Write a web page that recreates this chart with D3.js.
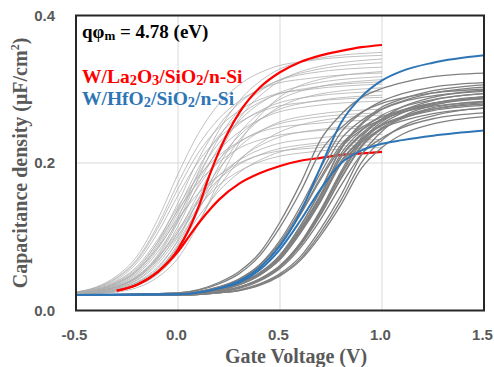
<!DOCTYPE html>
<html>
<head>
<meta charset="utf-8">
<script src="https://cdn.jsdelivr.net/npm/d3@7/dist/d3.min.js"></script>
<style>
  html, body { margin: 0; padding: 0; background: #fff; }
  svg { display: block; }
</style>
</head>
<body>
<svg id="chart" width="494" height="367"></svg>
<script>
// C-V curves, W/La2O3 vs W/HfO2 gate stacks

const xTicks = [-0.5, 0.0, 0.5, 1.0, 1.5]
const yTicks = [0.0, 0.2, 0.4]

// La2O3 samples (thin light grey), sampled on laVolt
const laVolt = [-0.5, -0.4, -0.3, -0.2, -0.1, 0.0, 0.1, 0.2, 0.3, 0.45, 0.65, 1.0]
const laCurves = [
  [0.023, 0.025, 0.032, 0.047, 0.075, 0.125, 0.188, 0.244, 0.284, 0.320, 0.340, 0.350],
  [0.025, 0.032, 0.047, 0.074, 0.123, 0.185, 0.240, 0.280, 0.306, 0.328, 0.339, 0.346],
  [0.022, 0.024, 0.028, 0.038, 0.057, 0.096, 0.151, 0.212, 0.260, 0.302, 0.328, 0.341],
  [0.023, 0.025, 0.032, 0.046, 0.073, 0.120, 0.180, 0.234, 0.272, 0.306, 0.325, 0.336],
  [0.024, 0.028, 0.038, 0.056, 0.093, 0.146, 0.205, 0.251, 0.281, 0.307, 0.322, 0.330],
  [0.022, 0.023, 0.025, 0.031, 0.045, 0.071, 0.117, 0.175, 0.227, 0.278, 0.310, 0.324],
  [0.025, 0.031, 0.045, 0.070, 0.115, 0.173, 0.224, 0.260, 0.284, 0.305, 0.315, 0.322],
  [0.023, 0.025, 0.031, 0.044, 0.070, 0.114, 0.171, 0.221, 0.257, 0.289, 0.307, 0.317],
  [0.022, 0.024, 0.027, 0.037, 0.054, 0.090, 0.140, 0.196, 0.240, 0.278, 0.301, 0.313],
  [0.024, 0.027, 0.037, 0.054, 0.089, 0.138, 0.193, 0.237, 0.264, 0.289, 0.302, 0.310],
  [0.025, 0.031, 0.044, 0.068, 0.111, 0.165, 0.214, 0.248, 0.271, 0.291, 0.300, 0.307],
  [0.022, 0.024, 0.027, 0.036, 0.053, 0.087, 0.135, 0.189, 0.231, 0.268, 0.291, 0.302],
  [0.024, 0.027, 0.036, 0.053, 0.086, 0.133, 0.185, 0.227, 0.253, 0.277, 0.290, 0.297],
  [0.023, 0.025, 0.030, 0.042, 0.066, 0.106, 0.158, 0.204, 0.237, 0.267, 0.283, 0.292],
  [0.025, 0.030, 0.042, 0.065, 0.105, 0.156, 0.202, 0.234, 0.255, 0.274, 0.283, 0.289],
  [0.024, 0.027, 0.035, 0.051, 0.083, 0.128, 0.178, 0.217, 0.242, 0.265, 0.277, 0.284],
  [0.023, 0.025, 0.030, 0.041, 0.063, 0.100, 0.149, 0.192, 0.222, 0.250, 0.265, 0.273],
  [0.024, 0.026, 0.034, 0.049, 0.079, 0.121, 0.168, 0.205, 0.228, 0.249, 0.261, 0.268],
  [0.022, 0.023, 0.026, 0.034, 0.049, 0.078, 0.120, 0.167, 0.203, 0.235, 0.255, 0.265],
  [0.024, 0.029, 0.040, 0.060, 0.096, 0.141, 0.182, 0.210, 0.229, 0.246, 0.253, 0.259],
  [0.023, 0.024, 0.029, 0.039, 0.059, 0.094, 0.138, 0.177, 0.205, 0.230, 0.244, 0.251],
  [0.024, 0.029, 0.039, 0.058, 0.092, 0.136, 0.174, 0.201, 0.220, 0.235, 0.243, 0.248],
  [0.023, 0.026, 0.033, 0.046, 0.072, 0.109, 0.151, 0.183, 0.204, 0.223, 0.233, 0.239],
  [0.023, 0.026, 0.033, 0.045, 0.071, 0.106, 0.147, 0.178, 0.198, 0.216, 0.226, 0.232],
  [0.023, 0.024, 0.028, 0.038, 0.055, 0.087, 0.127, 0.162, 0.187, 0.210, 0.223, 0.229],
  [0.024, 0.028, 0.037, 0.055, 0.085, 0.124, 0.159, 0.183, 0.200, 0.214, 0.220, 0.225],
  [0.023, 0.026, 0.032, 0.044, 0.068, 0.102, 0.140, 0.170, 0.189, 0.206, 0.215, 0.221]
]

// HfO2 samples (darker grey), sampled on hfVolt
const hfVolt = [-0.5, 0.0, 0.2, 0.3, 0.4, 0.5, 0.6, 0.7, 0.8, 0.9, 1.0, 1.1, 1.25, 1.5]
const hfCurves = [
  [0.021, 0.024, 0.038, 0.053, 0.078, 0.120, 0.172, 0.232, 0.266, 0.289, 0.301, 0.309, 0.317, 0.322],
  [0.021, 0.023, 0.032, 0.043, 0.062, 0.095, 0.141, 0.194, 0.242, 0.268, 0.284, 0.294, 0.303, 0.309],
  [0.021, 0.022, 0.028, 0.037, 0.051, 0.075, 0.115, 0.164, 0.221, 0.254, 0.276, 0.287, 0.298, 0.306],
  [0.021, 0.022, 0.028, 0.037, 0.051, 0.075, 0.114, 0.163, 0.219, 0.252, 0.273, 0.284, 0.295, 0.303],
  [0.021, 0.021, 0.026, 0.032, 0.043, 0.061, 0.092, 0.137, 0.189, 0.235, 0.260, 0.276, 0.289, 0.299],
  [0.021, 0.023, 0.032, 0.042, 0.061, 0.092, 0.136, 0.187, 0.233, 0.258, 0.273, 0.283, 0.291, 0.297],
  [0.021, 0.021, 0.025, 0.032, 0.042, 0.060, 0.091, 0.135, 0.186, 0.231, 0.256, 0.271, 0.285, 0.294],
  [0.021, 0.022, 0.028, 0.036, 0.050, 0.073, 0.111, 0.158, 0.213, 0.244, 0.265, 0.276, 0.286, 0.294],
  [0.021, 0.021, 0.024, 0.028, 0.036, 0.050, 0.073, 0.111, 0.157, 0.211, 0.243, 0.263, 0.278, 0.290],
  [0.021, 0.021, 0.025, 0.031, 0.042, 0.060, 0.090, 0.134, 0.184, 0.228, 0.253, 0.268, 0.281, 0.290],
  [0.021, 0.022, 0.028, 0.036, 0.049, 0.072, 0.110, 0.156, 0.209, 0.240, 0.260, 0.271, 0.281, 0.289],
  [0.021, 0.023, 0.031, 0.042, 0.059, 0.089, 0.131, 0.181, 0.225, 0.248, 0.263, 0.272, 0.281, 0.287],
  [0.021, 0.021, 0.025, 0.031, 0.041, 0.059, 0.089, 0.131, 0.180, 0.224, 0.248, 0.262, 0.275, 0.284],
  [0.021, 0.023, 0.031, 0.041, 0.058, 0.088, 0.130, 0.178, 0.221, 0.245, 0.259, 0.269, 0.277, 0.283],
  [0.021, 0.021, 0.025, 0.031, 0.041, 0.059, 0.088, 0.130, 0.179, 0.222, 0.246, 0.260, 0.273, 0.282],
  [0.021, 0.022, 0.028, 0.035, 0.048, 0.070, 0.107, 0.151, 0.203, 0.233, 0.252, 0.263, 0.273, 0.280],
  [0.021, 0.022, 0.027, 0.035, 0.048, 0.070, 0.106, 0.150, 0.202, 0.231, 0.251, 0.261, 0.271, 0.278],
  [0.021, 0.021, 0.024, 0.027, 0.035, 0.048, 0.070, 0.106, 0.150, 0.201, 0.231, 0.250, 0.264, 0.275],
  [0.021, 0.022, 0.027, 0.035, 0.048, 0.069, 0.105, 0.148, 0.199, 0.228, 0.247, 0.257, 0.267, 0.274],
  [0.021, 0.021, 0.025, 0.030, 0.040, 0.057, 0.085, 0.124, 0.170, 0.212, 0.234, 0.248, 0.260, 0.268],
  [0.021, 0.021, 0.024, 0.027, 0.034, 0.047, 0.068, 0.102, 0.144, 0.193, 0.221, 0.239, 0.253, 0.263],
  [0.021, 0.024, 0.036, 0.050, 0.074, 0.113, 0.161, 0.216, 0.248, 0.269, 0.281, 0.288, 0.295, 0.300],
  [0.021, 0.022, 0.028, 0.036, 0.049, 0.072, 0.109, 0.154, 0.208, 0.238, 0.258, 0.269, 0.279, 0.288]
]

// highlighted La2O3 pair (red)
const redVolt = [-0.3, -0.2, -0.1, 0.0, 0.1, 0.15, 0.2, 0.3, 0.4, 0.5, 0.6, 0.7, 0.8, 0.9, 1.0]
const redTop = [0.027, 0.035, 0.052, 0.083, 0.140, 0.180, 0.215, 0.268, 0.302, 0.323, 0.337, 0.346, 0.352, 0.357, 0.360]
const redBottom = [0.027, 0.035, 0.052, 0.080, 0.118, 0.135, 0.150, 0.172, 0.186, 0.196, 0.203, 0.207, 0.211, 0.213, 0.215]

// highlighted HfO2 pair (blue), on hfVolt
const blueTop = [0.021, 0.022, 0.030, 0.040, 0.058, 0.088, 0.133, 0.195, 0.255, 0.290, 0.312, 0.325, 0.336, 0.346]
const blueBottom = [0.021, 0.022, 0.030, 0.038, 0.055, 0.083, 0.122, 0.165, 0.200, 0.217, 0.226, 0.231, 0.237, 0.244]

const svg = d3.select('#chart')
const plot = { left: 76, right: 484, top: 15.5, bottom: 310.5 }

const x = d3.scaleLinear().domain([-0.5, 1.5]).range([plot.left, plot.right])
const y = d3.scaleLinear().domain([0, 0.4]).range([plot.bottom, plot.top])

const serif = '"Liberation Serif", "Times New Roman", serif'
const sans = '"Liberation Sans", Arial, sans-serif'
const axisGrey = '#595959'

// Grid
const grid = svg.append('g').attr('class', 'grid')
grid.selectAll('line.v')
  .data(xTicks.filter(d => d > -0.5 && d < 1.5))
  .join('line')
  .attr('class', 'v')
  .attr('x1', d => x(d)).attr('x2', d => x(d))
  .attr('y1', plot.top).attr('y2', plot.bottom)
  .attr('stroke', '#d9d9d9').attr('stroke-width', 1)
grid.selectAll('line.h')
  .data(yTicks.filter(d => d > 0 && d < 0.4))
  .join('line')
  .attr('class', 'h')
  .attr('x1', plot.left).attr('x2', plot.right)
  .attr('y1', d => y(d)).attr('y2', d => y(d))
  .attr('stroke', '#d9d9d9').attr('stroke-width', 1)

const line = (xs) => d3.line()
  .x((d, i) => x(xs[i]))
  .y(d => y(d))
  .curve(d3.curveMonotoneX)

const curves = svg.append('g').attr('class', 'curves')

curves.append('g').selectAll('path')
  .data(laCurves)
  .join('path')
  .attr('d', line(laVolt))
  .attr('fill', 'none')
  .attr('stroke', '#ababab')
  .attr('stroke-width', 0.75)

curves.append('g').selectAll('path')
  .data([redBottom, redTop])
  .join('path')
  .attr('d', line(redVolt))
  .attr('fill', 'none')
  .attr('stroke', '#ff0000')
  .attr('stroke-width', 2.2)

curves.append('g').selectAll('path')
  .data(hfCurves)
  .join('path')
  .attr('d', line(hfVolt))
  .attr('fill', 'none')
  .attr('stroke', '#808080')
  .attr('stroke-width', 1.3)

curves.append('g').selectAll('path')
  .data([blueBottom, blueTop])
  .join('path')
  .attr('d', line(hfVolt))
  .attr('fill', 'none')
  .attr('stroke', '#2e75b6')
  .attr('stroke-width', 2)

// Frame
svg.append('rect')
  .attr('x', plot.left).attr('y', plot.top)
  .attr('width', plot.right - plot.left)
  .attr('height', plot.bottom - plot.top)
  .attr('fill', 'none')
  .attr('stroke', '#262626')
  .attr('stroke-width', 2)

// Axes (labels only)
const xAxis = svg.append('g')
  .attr('transform', `translate(-2,${plot.bottom})`)
  .call(d3.axisBottom(x).tickValues(xTicks).tickSize(0).tickPadding(19).tickFormat(d => d.toFixed(1)))
xAxis.select('.domain').remove()
xAxis.selectAll('text')
  .attr('font-family', sans).attr('font-weight', 'bold').attr('font-size', 15)
  .attr('fill', axisGrey)

const yAxis = svg.append('g')
  .attr('transform', `translate(${plot.left},0)`)
  .call(d3.axisLeft(y).tickValues(yTicks).tickSize(0).tickPadding(21).tickFormat(d => d.toFixed(1)))
yAxis.select('.domain').remove()
yAxis.selectAll('text')
  .attr('font-family', sans).attr('font-weight', 'bold').attr('font-size', 15)
  .attr('fill', axisGrey)

// Axis titles
svg.append('text')
  .attr('x', 296).attr('y', 363)
  .attr('text-anchor', 'middle')
  .attr('font-family', serif).attr('font-weight', 'bold').attr('font-size', 20)
  .attr('fill', axisGrey)
  .text('Gate Voltage (V)')

const yTitle = svg.append('text')
  .attr('transform', `translate(27,${(plot.top + plot.bottom) / 2}) rotate(-90)`)
  .attr('text-anchor', 'middle')
  .attr('font-family', serif).attr('font-weight', 'bold').attr('font-size', 20)
  .attr('fill', axisGrey)
yTitle.append('tspan').text('Capacitance density (μF/cm')
yTitle.append('tspan').attr('font-size', 12).attr('dy', -8).text('2')
yTitle.append('tspan').attr('dy', 8).text(')')

// Annotations with subscripts
function richText(xPos, yPos, parts, color, size, subSize) {
  const t = svg.append('text')
    .attr('x', xPos).attr('y', yPos)
    .attr('font-family', serif).attr('font-weight', 'bold').attr('font-size', size)
    .attr('fill', color)
  let shifted = false
  parts.forEach(p => {
    const sub = Array.isArray(p)
    const s = t.append('tspan').text(sub ? p[0] : p)
    if (sub) {
      s.attr('font-size', subSize)
      if (!shifted) { s.attr('dy', 2); shifted = true }
    } else if (shifted) {
      s.attr('dy', -2); shifted = false
    }
  })
}

richText(82, 38, ['qφ', ['m'], ' = 4.78 (eV)'], '#000000', 19, 13)
richText(82, 83, ['W/La', ['2'], 'O', ['3'], '/SiO', ['2'], '/n-Si'], '#ff0000', 19.5, 14.5)
richText(82, 105, ['W/HfO', ['2'], '/SiO', ['2'], '/n-Si'], '#2e75b6', 19.5, 14.5)
</script>
</body>
</html>
